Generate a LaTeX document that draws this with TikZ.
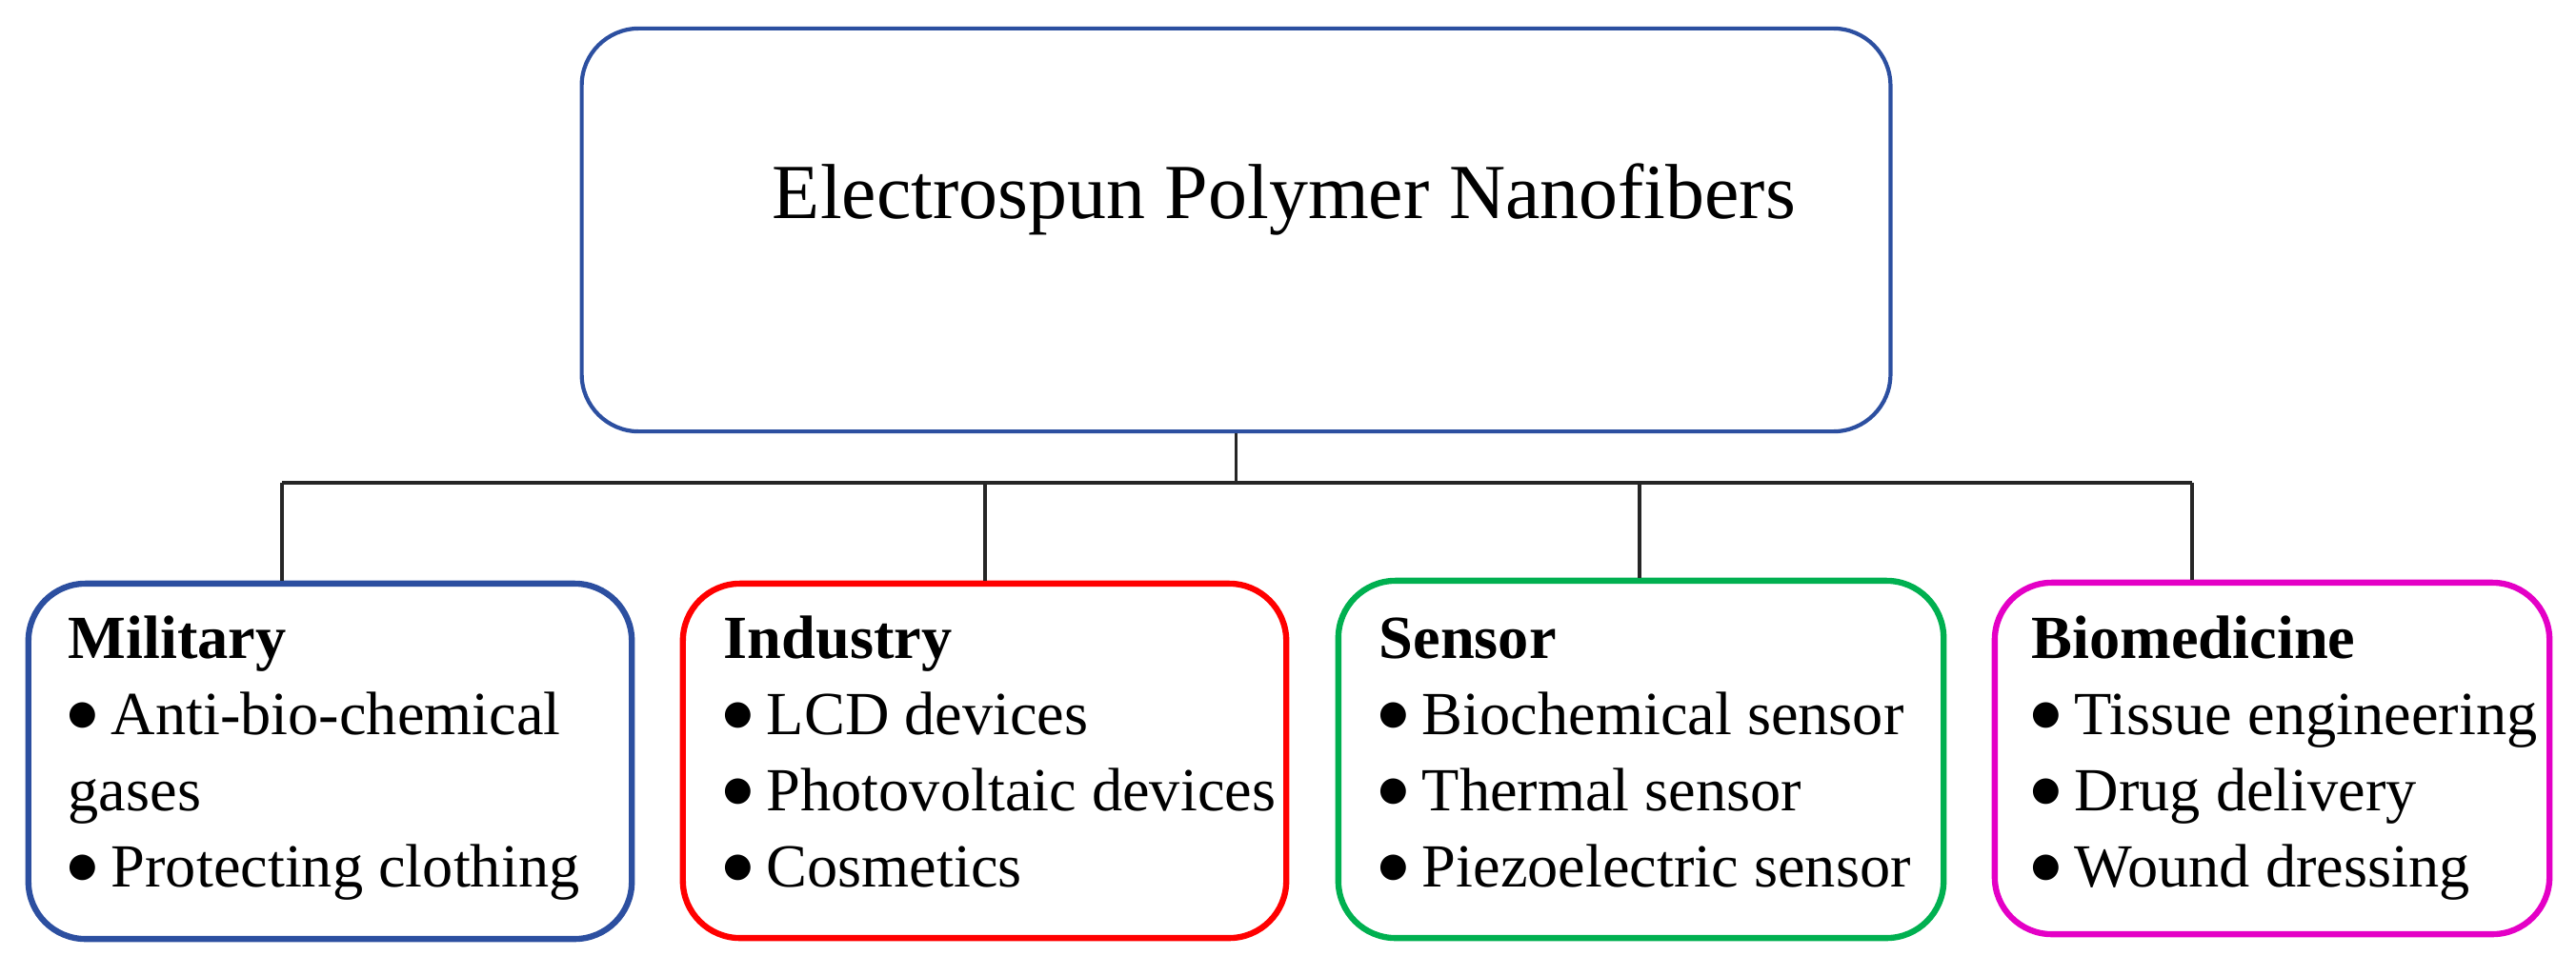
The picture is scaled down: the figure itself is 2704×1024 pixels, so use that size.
\documentclass[tikz,border=0pt]{standalone}
\usepackage{fontspec}
\setmainfont{Liberation Serif}
\newfontfamily\dotfont{DejaVu Sans}
\definecolor{boxblue}{HTML}{2C4FA0}
\definecolor{boxred}{HTML}{FF0000}
\definecolor{boxgreen}{HTML}{00B050}
\definecolor{boxmag}{HTML}{E400C6}
\newcommand\bigbul{\makebox[0.5em][l]{\raisebox{0.16em}{\dotfont\fontsize{10}{10}\selectfont ●}}\hspace{0.2em}}
\tikzset{
  panel/.style={draw, rounded corners=0.6cm, inner sep=0pt, line width=1.8pt},
  titlebox/.style={draw=boxblue, rounded corners=0.6cm, inner sep=0pt, line width=1.2pt},
  itemtxt/.style={anchor=base west, inner sep=0pt, font=\fontsize{18.3}{22}\selectfont},
  headtxt/.style={itemtxt, font=\fontsize{18.3}{22}\selectfont\bfseries},
  link/.style={draw=black!85, line width=0.9pt}
}
\begin{document}
\begin{tikzpicture}[x=0.01cm,y=-0.01cm]
\useasboundingbox (0,0) rectangle (2704,1024);
% top box
\node[titlebox, minimum width=13.73cm, minimum height=4.23cm] (top) at (1297.5,241.5) {};
\node[anchor=base, inner sep=0pt, font=\fontsize{23.3}{28}\selectfont] (title) at (1348,229) {Electrospun Polymer Nanofibers};
% bottom boxes
\node[panel, draw=boxblue, minimum width=6.33cm, minimum height=3.73cm] (mil) at (346.5,799.5) {};
\node[panel, draw=boxred, minimum width=6.33cm, minimum height=3.72cm] (ind) at (1033.5,799) {};
\node[panel, draw=boxgreen, minimum width=6.35cm, minimum height=3.75cm] (sen) at (1722.5,797.5) {};
\node[panel, draw=boxmag, minimum width=5.82cm, minimum height=3.69cm] (bio) at (2385,796.5) {};
% texts
\node[headtxt] (m1) at (71,691) {Military};
\node[itemtxt] (m2) at (71,771) {\bigbul Anti-bio-chemical};
\node[itemtxt] (m3) at (71,851) {gases};
\node[itemtxt] (m4) at (71,931) {\bigbul Protecting clothing};
\node[headtxt] (i1) at (759,691) {Industry};
\node[itemtxt] (i2) at (759,771) {\bigbul LCD devices};
\node[itemtxt] (i3) at (759,851) {\bigbul Photovoltaic devices};
\node[itemtxt] (i4) at (759,931) {\bigbul Cosmetics};
\node[headtxt] (s1) at (1447,691) {Sensor};
\node[itemtxt] (s2) at (1447,771) {\bigbul Biochemical sensor};
\node[itemtxt] (s3) at (1447,851) {\bigbul Thermal sensor};
\node[itemtxt] (s4) at (1447,931) {\bigbul Piezoelectric sensor};
\node[headtxt] (b1) at (2132,691) {Biomedicine};
\node[itemtxt] (b2) at (2132,771) {\bigbul Tissue engineering};
\node[itemtxt] (b3) at (2132,851) {\bigbul Drug delivery};
\node[itemtxt] (b4) at (2132,931) {\bigbul Wound dressing};
% connectors
\coordinate (hub) at (1297.5,507);
\coordinate (j1) at (296,507);
\coordinate (j2) at (1034,507);
\coordinate (j3) at (1721,507);
\coordinate (j4) at (2301,507);
\draw[link] (top.south) -- (hub);
\draw[link] (j1) -- (j4);
\draw[link] (j1) -- (j1 |- mil.north);
\draw[link] (j2) -- (j2 |- ind.north);
\draw[link] (j3) -- (j3 |- sen.north);
\draw[link] (j4) -- (j4 |- bio.north);
\end{tikzpicture}
\end{document}
